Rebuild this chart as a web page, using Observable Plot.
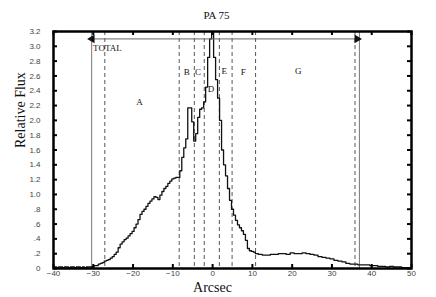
<!DOCTYPE html>
<html>
<head>
<meta charset="utf-8">
<script src="https://cdn.jsdelivr.net/npm/d3@7"></script>
<script src="https://cdn.jsdelivr.net/npm/@observablehq/plot@0.6"></script>
<style>
  html, body { margin: 0; padding: 0; background: #fff; }
  #chart svg { display: block; }
</style>
</head>
<body>
<div id="chart"></div>
<script>
// Profile (arcsec, relative flux)
const arcsec = [
  -40,-39.5,-39,-38.5,-38,-37.5,-37,-36.5,-36,-35.5,-35,-34.5,-34,-33.5,-33,-32.5,-32,-31.5,-31,-30.5,
  -30,-29.5,-29,-28.5,-28,-27.5,-27,-26.5,-26,-25.5,-25,-24.5,-24,-23.5,-23,-22.5,-22,-21.5,-21,-20.5,
  -20,-19.5,-19,-18.5,-18,-17.5,-17,-16.5,-16,-15.5,-15,-14.5,-14,-13.5,-13,-12.5,-12,-11.5,-11,-10.5,
  -10,-9.5,-9,-8.5,-8,-7.5,-7,-6.5,-6,-5.5,-5,-4.5,-4,-3.5,-3,-2.5,-2,-1.5,-1,-0.5,
  0,0.5,1,1.5,2,2.5,3,3.5,4,4.5,5,5.5,6,6.5,7,7.5,8,8.5,9,9.5,
  10,10.5,11,12,13,14,15,16,17,18,19,20,21,22,23,24,25,26,27,28,
  29,30,31,32,33,34,35,36,37,38,39,40,41,42,43,44,45,46,47,48,49,50
];
const flux = [
  0.01,0.02,0.01,0.02,0.02,0.01,0.02,0.02,0.01,0.02,0.02,0.01,0.02,0.02,0.01,0.02,0.01,0.02,0.02,0.02,
  0.03,0.04,0.04,0.06,0.07,0.08,0.10,0.11,0.12,0.14,0.16,0.19,0.22,0.28,0.33,0.36,0.39,0.41,0.44,0.47,
  0.50,0.55,0.60,0.66,0.73,0.77,0.80,0.84,0.88,0.91,0.94,0.97,0.96,0.93,0.99,1.04,1.08,1.11,1.15,1.18,
  1.21,1.22,1.23,1.23,1.32,1.50,1.63,1.75,2.17,2.17,1.98,1.72,1.82,2.04,2.15,2.17,2.25,2.45,2.85,3.10,
  3.30,2.85,2.55,2.30,2.00,1.60,1.40,1.25,1.08,0.92,0.80,0.72,0.65,0.59,0.55,0.51,0.46,0.38,0.27,0.24,
  0.23,0.22,0.20,0.19,0.18,0.18,0.19,0.19,0.20,0.20,0.19,0.21,0.20,0.20,0.21,0.20,0.19,0.18,0.16,0.15,
  0.14,0.13,0.11,0.10,0.09,0.07,0.06,0.06,0.05,0.05,0.05,0.04,0.04,0.03,0.03,0.02,0.03,0.02,0.02,0.01,0.01,0.01
];

// Region boundaries
const solidLines = [-30.4, 36.9];
const dashedLines = [-27.1, -8.4, -4.6, -2.1, 1.7, 4.9, 10.8, 35.8];

// Region labels
const regionNames = ["A", "B", "C", "D", "E", "F", "G"];
const regionX = [-18.4, -6.5, -3.7, -0.4, 2.9, 7.7, 21.5];
const regionY = [2.24, 2.65, 2.65, 2.42, 2.67, 2.65, 2.66];

// TOTAL arrow
const totalFrom = -30.3;
const totalTo = 36.3;
const totalY = 3.10;
const totalLabel = "TOTAL";

// Ticks
const xTicks = [-40, -30, -20, -10, 0, 10, 20, 30, 40, 50];
const yTicks = [0, 0.2, 0.4, 0.6, 0.8, 1.0, 1.2, 1.4, 1.6, 1.8, 2.0, 2.2, 2.4, 2.6, 2.8, 3.0, 3.2];
const yTickLabels = ["0", ".2", ".4", ".6", ".8", "1.0", "1.2", "1.4", "1.6", "1.8", "2.0", "2.2", "2.4", "2.6", "2.8", "3.0", "3.2"];

const profile = arcsec.map((x, i) => ({x, y: flux[i]}));
const regions = regionNames.map((n, i) => ({n, x: regionX[i], y: regionY[i]}));

const W = 436, H = 297;
const mL = 53, mR = 25, mT = 31, mB = 29;
const fw = W - mL - mR, fh = H - mT - mB;
const tk = 4;

const serif = "Liberation Serif, DejaVu Serif, serif";
const sans = "Liberation Sans, DejaVu Sans, sans-serif";

const chart = Plot.plot({
  width: W,
  height: H,
  marginLeft: mL,
  marginRight: mR,
  marginTop: mT,
  marginBottom: mB,
  style: {fontFamily: sans, background: "#fff"},
  x: {domain: [-40, 50]},
  y: {domain: [0, 3.2]},
  marks: [
    // region boundaries
    Plot.ruleX(solidLines, {x: d => d, stroke: "#777", strokeWidth: 1}),
    Plot.ruleX(dashedLines, {x: d => d, stroke: "#444", strokeWidth: 0.9, strokeDasharray: "4,3"}),
    // profile
    Plot.line(profile, {x: "x", y: "y", curve: "step", stroke: "#111", strokeWidth: 1.3, clip: true}),
    // TOTAL arrow
    Plot.ruleY([totalY], {x1: totalFrom, x2: totalTo, y: d => d, stroke: "#666", strokeWidth: 1}),
    Plot.dot([{x: totalFrom, r: -90}, {x: totalTo, r: 90}], {
      x: d => d.x, y: () => totalY, symbol: "triangle", rotate: d => d.r, r: 3.2,
      fill: "#111", stroke: null
    }),
    Plot.text([totalLabel], {x: () => totalFrom, y: () => totalY, text: d => d, dx: 1, dy: 9,
      textAnchor: "start", fontFamily: serif, fontSize: 9, fill: "#111"}),
    // region letters
    Plot.text(regions, {x: "x", y: "y", text: "n", fontFamily: serif, fontSize: 9, fill: "#111"}),
    // tick labels
    Plot.axisX(xTicks, {anchor: "bottom", tickSize: 0, tickPadding: 2, fontSize: 8, fill: "#444",
      tickFormat: d => d < 0 ? "\u2212" + Math.abs(d) : String(d), label: null}),
    Plot.axisY(yTicks, {anchor: "left", tickSize: 0, tickPadding: 13, fontSize: 8, fill: "#444",
      tickFormat: (d, i) => yTickLabels[i], label: null}),
    // inward ticks on four sides
    Plot.tickX(xTicks, {x: d => d, insetTop: fh - tk, stroke: "#000", strokeWidth: 2}),
    Plot.tickX(xTicks, {x: d => d, insetBottom: fh - tk, stroke: "#000", strokeWidth: 2}),
    Plot.tickY(yTicks, {y: d => d, insetRight: fw - tk, stroke: "#000", strokeWidth: 2}),
    Plot.tickY(yTicks, {y: d => d, insetLeft: fw - tk, stroke: "#000", strokeWidth: 2}),
    // frame
    Plot.frame({stroke: "#000", strokeWidth: 2.5}),
    // title and axis titles
    Plot.text(["PA 75"], {frameAnchor: "top", dx: -16, dy: -16, lineAnchor: "middle",
      fontFamily: serif, fontSize: 11, fill: "#111"}),
    Plot.text(["Arcsec"], {frameAnchor: "bottom", dx: -20, dy: 19, lineAnchor: "middle",
      fontFamily: serif, fontSize: 14, fill: "#111"}),
    Plot.text(["Relative Flux"], {frameAnchor: "left", dx: -33, dy: -2, rotate: -90, lineAnchor: "middle",
      fontFamily: serif, fontSize: 14, fill: "#111"})
  ]
});
document.getElementById("chart").appendChild(chart);
</script>
</body>
</html>
